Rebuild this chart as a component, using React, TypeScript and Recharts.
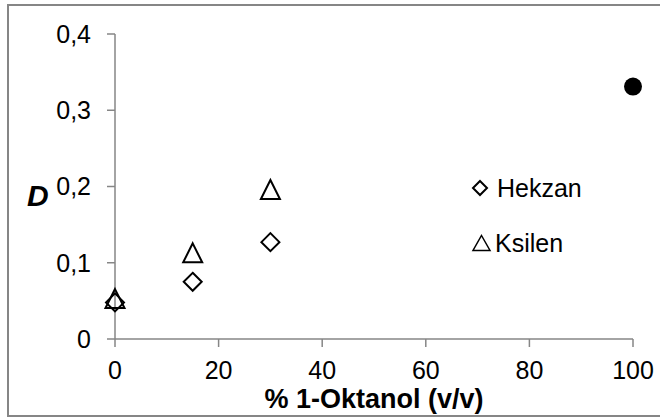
import React from 'react';
import { ScatterChart, Scatter, XAxis, YAxis, Legend } from 'recharts';

const xTicks = [0, 20, 40, 60, 80, 100];
const yTicks = [0, 0.1, 0.2, 0.3, 0.4];

const hekzanX = [0, 15, 30];
const hekzanY = [0.048, 0.075, 0.127];
const ksilenX = [0, 15, 30];
const ksilenY = [0.053, 0.113, 0.196];
const extraX = [100];
const extraY = [0.331];

const hekzan = hekzanX.map((x, i) => ({ x, y: hekzanY[i] }));
const ksilen = ksilenX.map((x, i) => ({ x, y: ksilenY[i] }));
const extra = extraX.map((x, i) => ({ x, y: extraY[i] }));

const FONT = '"Liberation Sans", Arial, sans-serif';
const AXIS = '#868686';

const Diamond = (props: any) => {
  const { cx, cy } = props;
  const r = 9;
  return (
    <path
      d={`M${cx},${cy - r}L${cx + r},${cy}L${cx},${cy + r}L${cx - r},${cy}Z`}
      fill="none"
      stroke="#000"
      strokeWidth={2}
    />
  );
};

const Triangle = (props: any) => {
  const { cx, cy } = props;
  const h = 9.5;
  return (
    <path
      d={`M${cx},${cy - h}L${cx + h},${cy + h}L${cx - h},${cy + h}Z`}
      fill="none"
      stroke="#000"
      strokeWidth={2}
    />
  );
};

const Dot = (props: any) => {
  const { cx, cy } = props;
  return <circle cx={cx} cy={cy} r={9} fill="#000" />;
};

const LegendContent = (props: any) => {
  const items = (props.payload || []).filter((p: any) => p.value !== 'extra');
  return (
    <svg width={200} height={100} style={{ display: 'block' }}>
      {items.map((p: any, i: number) => {
        const cy = i === 0 ? 18 : 73;
        const cx = i === 0 ? 20 : 21.5;
        const shape =
          i === 0 ? (
            <path
              d={`M${cx},${cy - 7}L${cx + 7},${cy}L${cx},${cy + 7}L${cx - 7},${cy}Z`}
              fill="none"
              stroke="#000"
              strokeWidth={2}
            />
          ) : (
            <path
              d={`M${cx},${cy - 7.5}L${cx + 8.5},${cy + 7.5}L${cx - 8.5},${cy + 7.5}Z`}
              fill="none"
              stroke="#000"
              strokeWidth={1.5}
            />
          );
        return (
          <g key={p.value}>
            {shape}
            <text x={i === 0 ? 37 : 35} y={cy + 9} fontFamily={FONT} fontSize={25} fill="#000">
              {p.value}
            </text>
          </g>
        );
      })}
    </svg>
  );
};

const fmt = (v: number) => (v === 0 ? '0' : v.toFixed(1).replace('.', ','));

export default function App() {
  return (
    <div style={{ position: 'absolute', left: 0, top: 0, width: 660, height: 418, background: '#fff' }}>
      <div
        style={{
          position: 'absolute',
          left: 7,
          top: 4,
          width: 680,
          height: 413,
          border: `2px solid ${AXIS}`,
          boxSizing: 'border-box',
        }}
      />
      <div style={{ position: 'absolute', left: 0, top: 0 }}>
        <ScatterChart width={660} height={418} margin={{ top: 34, right: 27, bottom: 0, left: 0 }}>
          <XAxis
            type="number"
            dataKey="x"
            domain={[0, 100]}
            ticks={xTicks}
            interval={0}
            height={79}
            stroke={AXIS}
            strokeWidth={1.5}
            tickSize={8}
            tickMargin={14}
            tick={{ fill: '#000', fontSize: 25, fontFamily: FONT }}
            label={{
              value: '% 1-Oktanol (v/v)',
              position: 'insideBottom',
              offset: 10,
              fill: '#000',
              fontSize: 27,
              fontWeight: 'bold',
              fontFamily: FONT,
            }}
          />
          <YAxis
            type="number"
            dataKey="y"
            domain={[0, 0.4]}
            ticks={yTicks}
            interval={0}
            width={115}
            stroke={AXIS}
            strokeWidth={1.5}
            tickSize={8}
            tickMargin={16}
            tickFormatter={fmt}
            tick={{ fill: '#000', fontSize: 25, fontFamily: FONT }}
            label={{
              content: (p: any) => {
                const vb = p.viewBox || { x: 0 };
                return (
                  <text
                    x={vb.x + 27}
                    y={206}
                    fontFamily={FONT}
                    fontSize={30}
                    fontWeight="bold"
                    fontStyle="italic"
                    fill="#000"
                  >
                    D
                  </text>
                );
              },
            }}
          />
          <Legend
            layout="horizontal"
            align="center"
            verticalAlign="middle"
            content={<LegendContent />}
            wrapperStyle={{ position: 'absolute', left: 460, top: 170, width: 200, height: 100 }}
          />
          <Scatter name="Hekzan" data={hekzan} shape={<Diamond />} isAnimationActive={false} />
          <Scatter name="Ksilen" data={ksilen} shape={<Triangle />} isAnimationActive={false} />
          <Scatter name="extra" data={extra} shape={<Dot />} legendType="none" isAnimationActive={false} />
        </ScatterChart>
      </div>
    </div>
  );
}
